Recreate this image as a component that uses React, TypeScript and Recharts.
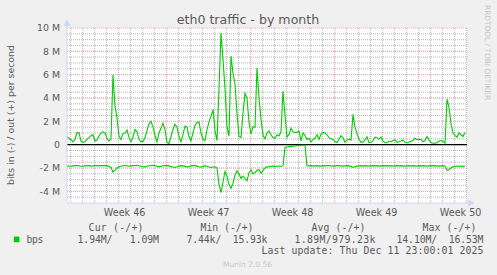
import React from "react";
import { LineChart, Line, XAxis, YAxis, CartesianGrid, ReferenceLine } from "recharts";

// ---- data (Mbit/s), one sample every 4 hours ----
const SAMPLE_DAYS = 1 / 6;
const outMbps = [
  0.68, 0.55, 0.42, 0.25, 0.45, 1.05, 1.03, 0.3, 0.2, 0.25,
  0.45, 0.6, 0.77, 0.85, 0.3, 0.4, 0.75, 1.0, 1.1, 1.0,
  0.55, 0.3, 0.5, 6.0, 3.3, 2.3, 0.7, 0.45, 0.95, 1.0,
  1.25, 0.6, 0.25, 0.65, 1.3, 1.1, 0.46, 0.25, 0.3, 0.6,
  1.2, 1.8, 2.0, 1.5, 0.8, 0.25, 1.03, 1.4, 1.85, 1.3,
  0.2, 0.11, 0.7, 1.3, 1.75, 1.5, 0.7, 0.25, 0.88, 1.6,
  1.5, 0.7, 0.33, 1.03, 1.65, 1.9, 1.95, 1.0, 0.46, 0.35,
  1.3, 1.95, 2.45, 3.0, 1.2, 0.35, 4.8, 9.6, 7.3, 4.8,
  1.5, 0.74, 7.6, 6.1, 5.2, 2.7, 0.7, 0.6, 2.7, 4.4,
  4.0, 1.9, 0.9, 1.55, 1.5, 6.6, 4.0, 2.2, 0.8, 0.5,
  1.0, 1.17, 0.85, 0.6, 0.55, 0.85, 0.74, 1.1, 4.6, 2.5,
  0.65, 0.88, 1.42, 1.1, 1.05, 1.05, 1.17, 0.33, 1.0, 0.8,
  0.45, 0.55, 0.25, 0.45, 0.55, 0.85, 0.46, 0.88, 1.05, 1.0,
  0.85, 0.6, 0.5, 0.45, 0.25, 0.18, 0.46, 0.77, 0.6, 0.2,
  0.4, 0.46, 0.4, 2.6, 1.5, 0.95, 0.46, 0.22, 0.22, 0.4,
  0.68, 0.17, 0.2, 0.33, 0.65, 0.62, 0.46, 0.65, 0.3, 0.17,
  0.17, 0.31, 0.25, 0.35, 0.4, 0.2, 0.25, 0.32, 0.4, 0.2,
  0.15, 0.23, 0.28, 0.38, 0.55, 0.42, 0.44, 0.45, 0.25, 0.35,
  0.7, 0.4, 0.17, 0.12, 0.13, 0.17, 0.31, 0.36, 0.3, 0.12,
  3.9, 3.2, 1.8, 1.0, 0.78, 0.65, 1.0, 0.85, 0.7, 1.05,
];
const inMbps = [
  -1.82, -1.84, -1.85, -1.82, -1.8, -1.78, -1.8, -1.85, -1.84, -1.82,
  -1.8, -1.8, -1.84, -1.82, -1.78, -1.8, -1.82, -1.8, -1.78, -1.8,
  -1.82, -1.85, -1.95, -2.35, -2.2, -2.0, -1.9, -1.85, -1.8, -1.78,
  -1.8, -1.85, -1.82, -1.8, -1.78, -1.76, -1.8, -1.85, -1.88, -1.9,
  -1.85, -1.8, -1.78, -1.76, -1.8, -1.85, -1.9, -1.85, -1.8, -1.78,
  -1.8, -1.82, -1.88, -1.92, -1.95, -1.9, -1.84, -1.8, -1.82, -1.86,
  -1.9, -1.88, -1.82, -1.8, -1.78, -1.84, -1.9, -1.92, -1.86, -1.8,
  -1.85, -1.92, -1.95, -1.92, -1.9, -2.0, -3.4, -4.1, -3.2, -2.3,
  -2.7, -3.4, -3.75, -3.3, -2.6, -2.25, -2.5, -2.9, -2.7, -2.9,
  -3.1, -2.4, -2.15, -2.5, -2.4, -2.2, -2.15, -2.45, -2.2, -2.0,
  -1.9, -1.88, -1.85, -1.84, -1.86, -1.85, -1.84, -1.85, -1.8, -0.22,
  -0.2, -0.17, -0.15, -0.13, -0.1, -0.08, -0.07, -0.06, -0.05, -0.05,
  -1.8, -1.82, -1.8, -1.84, -1.82, -1.8, -1.82, -1.84, -1.8, -1.82,
  -1.8, -1.78, -1.82, -1.84, -1.82, -1.8, -1.8, -1.82, -1.84, -1.82,
  -1.8, -1.82, -1.86, -1.95, -1.88, -1.84, -1.82, -1.8, -1.82, -1.8,
  -1.82, -1.84, -1.82, -1.8, -1.82, -1.8, -1.84, -1.82, -1.8, -1.82,
  -1.8, -1.82, -1.8, -1.84, -1.82, -1.8, -1.82, -1.8, -1.82, -1.84,
  -1.82, -1.8, -1.82, -1.8, -1.82, -1.84, -1.8, -1.82, -1.8, -1.82,
  -1.84, -1.82, -1.8, -1.82, -1.8, -1.82, -1.84, -1.82, -1.8, -1.84,
  -2.2, -2.15, -2.0, -1.9, -1.86, -1.84, -1.85, -1.84, -1.86, -1.85,
];

const X_DOMAIN_DAYS = 33.333;
const weekStartDays = [1.3, 8.3, 15.3, 22.3, 29.3];
const weekLabels = ["Week 46", "Week 47", "Week 48", "Week 49", "Week 50"];
const yTicksM = [-4, -2, 0, 2, 4, 6, 8, 10];
const Y_MIN_M = -5;
const Y_MAX_M = 10;

const legendHeaders = ["Cur (-/+)", "Min (-/+)", "Avg (-/+)", "Max (-/+)"];
const legendValues = ["1.94M/   1.09M", "7.44k/  15.93k", "1.89M/979.23k", "14.10M/  16.53M"];
const seriesName = "bps";
const lastUpdate = "Last update: Thu Dec 11 23:00:01 2025";

// ---- derived ----
const data = outMbps.map((v, i) => ({ t: i * SAMPLE_DAYS, out: v * 1e6, in: inMbps[i] * 1e6 }));
const weekLabelDays = weekStartDays.map((d) => d + 3.5);
const dayLines: number[] = [];
for (let k = 0; k < 34; k++) dayLines.push(Math.round((k + 0.3) * 1000) / 1000);
const minorY: number[] = [];
for (let k = 1; k < 30; k++) minorY.push(Y_MIN_M + k * 0.5);

const GREEN = "#00cc00";
const FONT = "#5a5a5a";
const AXIS = "#CFD6F8";
const GRID = "#b4b4b4";
const MGRID = "#f4a8a8";
const SANS = "'DejaVu Sans', sans-serif";
const MONO = "'DejaVu Sans Mono', monospace";

const headerX = [88.5, 200.5, 311.5, 422.5];
const headerLen = [55, 53, 54, 54];
const valueX = [77.5, 186.5, 294.5, 396.5];
const valueLen = [81.5, 81, 81, 87];

export default function App() {
  return (
    <div style={{ position: "absolute", left: 0, top: 0, width: 497, height: 275, background: "#f0f0f0", overflow: "hidden" }}>
      <div style={{ position: "absolute", left: 0, top: 0 }}>
        <LineChart width={497} height={275} data={data} margin={{ top: 28, right: 30, bottom: 52, left: 17 }}>
          <CartesianGrid horizontal={false} vertical={false} fill="#ffffff" stroke="none" />
          {dayLines.map((d, i) => (
            <ReferenceLine key={"vx" + i} x={d} stroke={GRID} strokeDasharray="1 1" />
          ))}
          {minorY.map((v, i) => (
            <ReferenceLine key={"hy" + i} y={v * 1e6} stroke={GRID} strokeDasharray="1 1" />
          ))}
          {yTicksM.map((v, i) => (
            <ReferenceLine key={"my" + i} y={v * 1e6} stroke={MGRID} strokeDasharray="1 1" />
          ))}
          {weekStartDays.map((d, i) => (
            <ReferenceLine key={"mx" + i} x={d} stroke={MGRID} strokeDasharray="1 1" />
          ))}
          <XAxis
            dataKey="t"
            type="number"
            domain={[0, X_DOMAIN_DAYS]}
            ticks={weekLabelDays}
            interval={0}
            tickFormatter={(_v: number, i: number) => weekLabels[i]}
            tickSize={0}
            tickMargin={6}
            height={20}
            axisLine={{ stroke: AXIS }}
            tickLine={false}
            tick={{ fill: FONT, fontSize: 9.6, fontFamily: SANS }}
            allowDataOverflow
          />
          <YAxis
            type="number"
            domain={[Y_MIN_M * 1e6, Y_MAX_M * 1e6]}
            ticks={yTicksM.map((v) => v * 1e6)}
            interval={0}
            tickFormatter={(v: number) => (v === 0 ? "0" : `${v / 1e6} M`)}
            width={50}
            tickSize={0}
            tickMargin={7}
            axisLine={{ stroke: AXIS }}
            tickLine={false}
            tick={{ fill: FONT, fontSize: 9.4, fontFamily: SANS }}
            allowDataOverflow
          />
          <ReferenceLine y={0} stroke="#000000" strokeWidth={1.1} />
          <Line dataKey="out" type="linear" stroke={GREEN} strokeWidth={1.1} dot={false} activeDot={false} isAnimationActive={false} />
          <Line dataKey="in" type="linear" stroke={GREEN} strokeWidth={1.1} dot={false} activeDot={false} isAnimationActive={false} />
        </LineChart>
      </div>
      <svg width={497} height={275} style={{ position: "absolute", left: 0, top: 0, pointerEvents: "none" }}>
        <line x1={67} y1={25} x2={67} y2={28} stroke={AXIS} />
        <polygon points="67,19.5 63.5,26 70.5,26" fill={AXIS} />
        <line x1={467} y1={203} x2={469} y2={203} stroke={AXIS} />
        <polygon points="474.5,203 468,199.5 468,206.5" fill={AXIS} />
        <text x={248} y={24} textAnchor="middle" fontFamily={SANS} fontSize={12.6} fill={FONT}>
          eth0 traffic - by month
        </text>
        <text transform="translate(14.3,115) rotate(-90)" textAnchor="middle" fontFamily={SANS} fontSize={9.4} fill={FONT}>
          bits in (-) / out (+) per second
        </text>
        <text transform="translate(485,5) rotate(90)" fontFamily={SANS} fontSize={7.4} fill="#c4c4c4">
          RRDTOOL / TOBI OETIKER
        </text>
        {legendHeaders.map((h, i) => (
          <text key={h} x={headerX[i]} y={231} fontFamily={MONO} fontSize={9.8} fill={FONT} textLength={headerLen[i]} lengthAdjust="spacing" style={{ whiteSpace: "pre" }}>
            {h}
          </text>
        ))}
        <rect x={13.8} y={236.6} width={5.6} height={5.6} fill={GREEN} />
        <text x={26.5} y={242.7} fontFamily={MONO} fontSize={9.8} fill={FONT} textLength={17} lengthAdjust="spacing">
          {seriesName}
        </text>
        {legendValues.map((v, i) => (
          <text key={v} x={valueX[i]} y={242.7} fontFamily={MONO} fontSize={9.8} fill={FONT} textLength={valueLen[i]} lengthAdjust="spacing" style={{ whiteSpace: "pre" }} xmlSpace="preserve">
            {v}
          </text>
        ))}
        <text x={261.5} y={254} fontFamily={MONO} fontSize={9.8} fill={FONT} textLength={222} lengthAdjust="spacing" style={{ whiteSpace: "pre" }}>
          {lastUpdate}
        </text>
        <text x={247.5} y={267} textAnchor="middle" fontFamily={SANS} fontSize={7.5} fill="#c8c8c8">
          Munin 2.0.56
        </text>
      </svg>
    </div>
  );
}
